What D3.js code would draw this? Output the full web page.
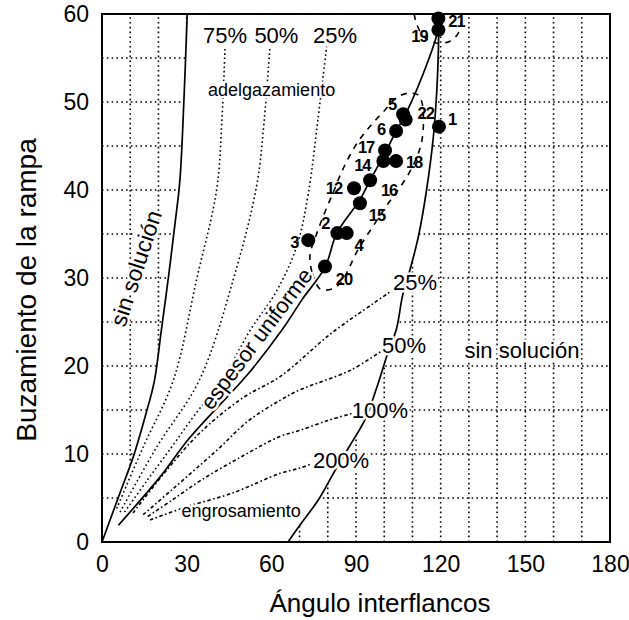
<!DOCTYPE html>
<html>
<head>
<meta charset="utf-8">
<script src="https://cdn.jsdelivr.net/npm/d3@7"></script>
<style>
  body { margin: 0; background: #fff; }
  svg { display: block; font-family: Arial, "Liberation Sans", sans-serif; }
</style>
</head>
<body>
<svg id="chart" width="629" height="620"></svg>
<script>
// ---- datos ----
const xTicks = [0, 30, 60, 90, 120, 150, 180];
const yTicks = [0, 10, 20, 30, 40, 50, 60];

// límites de "sin solución"
const limiteIzq = [[0,0],[6.4,5.6],[11.1,9.7],[15.5,14.5],[18.5,18.2],[21,24],[23.5,30],[25.8,36],[27.6,41.1],[29,50],[30.2,60]];
const limiteDer = [[65.9,0],[71,2.3],[76.7,4.8],[82,7.8],[87.9,11],[93.2,13.9],[97.3,17.5],[100.9,21.1],[104.4,24.3],[106.5,28],[109.1,30.9],[112.1,34.7],[115,40],[117.4,46],[118.6,51.1],[119.2,56],[119.3,60]];

// espesor uniforme
const espesorUniforme = [[5.8,1.9],[20.6,7.4],[31.2,11.9],[51.5,19],[64,24.2],[71,27.6],[79,31.2],[83.2,35.1],[91.4,38.9],[95,41.1],[100.3,44.2],[104.4,46.8],[107.4,48.5],[115.7,54.8],[119.2,58.4],[119.3,60]];

// adelgazamiento (punteadas)
const adelgaza75 = [[5.2,3.8],[14.6,10.8],[25.3,18.4],[33.5,29.8],[40.6,40],[42.5,48],[43.6,56.3]];
const adelgaza50 = [[6.4,3.4],[19.4,10.8],[34.5,18.4],[46.5,29.8],[54.8,40.5],[57.5,48],[59.5,56.3]];
const adelgaza25 = [[8,3.4],[16,7],[24.7,10.8],[33,14.5],[42.5,18.4],[52.4,24],[62,28.6],[69,33.6],[73.1,39.6],[76.5,48],[79.6,56.3]];

// engrosamiento (raya-punto)
const engrosa25 = [[11,3.3],[22,7.8],[35,12.5],[50,16.4],[63.1,18.8],[80.8,23.6],[96.1,27.1],[102,28.4]];
const engrosa50 = [[14.6,3.1],[25,6],[40.6,10.4],[52,13.8],[63.1,16.1],[70.2,17.3],[87.9,19.5],[99.5,21.8]];
const engrosa100 = [[16.2,2.9],[25,4.8],[35,7],[50,9.8],[63.1,12],[70.2,12.7],[80,13.8],[88.5,14.6]];
const engrosa200 = [[17,2.5],[30,4.0],[46.5,5.6],[63.1,7.8],[70.2,8.4],[74.3,8.9]];

// datos medidos
const puntosId = [1, 2, 3, 4, 5, 6, 12, 14, 15, 16, 17, 18, 19, 20, 21, 22];
const puntosAngulo = [119.4, 83.4, 73.1, 86.7, 106.7, 104.2, 89.3, 99.7, 91.4, 95.0, 100.3, 104.2, 119.2, 79.0, 119.2, 107.6];
const puntosBuzamiento = [47.2, 35.1, 34.3, 35.1, 48.6, 46.7, 40.2, 43.3, 38.5, 41.1, 44.5, 43.3, 58.2, 31.3, 59.5, 48.0];

// envolventes de los datos (discontinuas)
const envolvente = [[77.3,28.75],[74.4,30.7],[73.7,32.6],[75.8,34.8],[79,37.5],[81.9,39.7],[84.3,41.6],[87.5,43.75],[91.4,45.8],[95.7,47.5],[100.3,49.1],[104.2,50.45],[108.4,51],[112,50.8],[113.4,49.9],[113.9,48.2],[113.4,45.7],[111.6,43.75],[108.4,41.7],[104.9,40],[101,38.3],[97.1,36.4],[93.2,34.5],[90,32.8],[87.5,31.1],[84.7,29.5],[81.5,28.75]];
const envolventeSup = [[110.6,60],[111.6,58.75],[114.1,57.4],[118.4,56.7],[123.3,56.9],[126.2,57.8],[127.2,58.9],[127.6,60]];

// ---- layout ----
const width = 629, height = 620;
const margin = { top: 14, right: 19, bottom: 78, left: 102 };

const svg = d3.select('#chart');

const x = d3.scaleLinear().domain([0, 180]).range([margin.left, width - margin.right]);
const y = d3.scaleLinear().domain([0, 60]).range([height - margin.bottom, margin.top]);

const line = d3.line()
  .x(d => x(d[0]))
  .y(d => y(d[1]))
  .curve(d3.curveCatmullRom.alpha(0.5));

// zonas "sin solución" con cuadrícula
const zonaIzq = [[0,0], ...limiteIzq, [0,60]];
const zonaDer = [...limiteDer, [180,60], [180,0]];
const poly = d3.line().x(d => x(d[0])).y(d => y(d[1]));

const defs = svg.append('defs');
const clip = defs.append('clipPath').attr('id', 'zonas');
clip.append('path').attr('d', poly(zonaIzq) + 'Z');
clip.append('path').attr('d', poly(zonaDer) + 'Z');

const grid = svg.append('g')
  .attr('clip-path', 'url(#zonas)')
  .attr('stroke', '#000')
  .attr('stroke-width', 1.6)
  .attr('stroke-dasharray', '1.6,3.2');

grid.selectAll('line.v')
  .data(d3.range(10, 180, 10))
  .join('line')
  .attr('class', 'v')
  .attr('x1', d => x(d)).attr('x2', d => x(d))
  .attr('y1', y(0)).attr('y2', y(60));

grid.selectAll('line.h')
  .data(d3.range(5, 60, 5))
  .join('line')
  .attr('class', 'h')
  .attr('x1', x(0)).attr('x2', x(180))
  .attr('y1', d => y(d)).attr('y2', d => y(d));

// curvas
const curvas = svg.append('g').attr('fill', 'none').attr('stroke', '#000');

[limiteIzq, limiteDer].forEach(c => {
  curvas.append('path').attr('d', line(c)).attr('stroke-width', 1.7);
});

curvas.append('path').attr('d', line(espesorUniforme)).attr('stroke-width', 1.7);

[adelgaza75, adelgaza50, adelgaza25].forEach(c => {
  curvas.append('path').attr('d', line(c))
    .attr('stroke-width', 1.6)
    .attr('stroke-dasharray', '1.6,2.8');
});

[engrosa25, engrosa50, engrosa100, engrosa200].forEach(c => {
  curvas.append('path').attr('d', line(c))
    .attr('stroke-width', 1.6)
    .attr('stroke-dasharray', '3.5,2.5,1.6,2.5');
});

// envolventes
curvas.append('path')
  .attr('d', d3.line().x(d => x(d[0])).y(d => y(d[1])).curve(d3.curveCatmullRomClosed)(envolvente))
  .attr('stroke-width', 1.6)
  .attr('stroke-dasharray', '6,6');

curvas.append('path')
  .attr('d', line(envolventeSup))
  .attr('stroke-width', 1.6)
  .attr('stroke-dasharray', '6,6');

// textos de las curvas
const textos = svg.append('g')
  .attr('fill', '#000')
  .attr('stroke', '#fff')
  .attr('stroke-width', 5)
  .attr('paint-order', 'stroke')
  .attr('stroke-linejoin', 'round')
  .attr('text-anchor', 'middle');

const etiquetas = [
  { t: '75%', a: 43.6, b: 56.7, s: 22 },
  { t: '50%', a: 61.8, b: 56.7, s: 22 },
  { t: '25%', a: 82.6, b: 56.7, s: 22 },
  { t: '25%', a: 110.9, b: 28.6, s: 22 },
  { t: '50%', a: 107.0, b: 21.5, s: 22 },
  { t: '100%', a: 98.5, b: 14.1, s: 22 },
  { t: '200%', a: 84.7, b: 8.4, s: 22 },
  { t: 'sin solución', a: 148.8, b: 20.9, s: 22 },
  { t: 'adelgazamiento', a: 60.1, b: 50.7, s: 18 },
  { t: 'engrosamiento', a: 49.3, b: 2.84, s: 18 }
];

textos.selectAll('text.et')
  .data(etiquetas)
  .join('text')
  .attr('class', 'et')
  .attr('x', d => x(d.a))
  .attr('y', d => y(d.b))
  .attr('font-size', d => d.s)
  .text(d => d.t);

textos.append('text')
  .attr('transform', `translate(${x(12.0)},${y(31.1)}) rotate(-72)`)
  .attr('dy', '0.35em')
  .attr('font-size', 23)
  .text('sin solución');

textos.append('text')
  .attr('transform', `translate(${x(54.7)},${y(23.1)}) rotate(-53)`)
  .attr('dy', '0.35em')
  .attr('font-size', 22)
  .text('espesor uniforme');

// puntos
const puntos = puntosId.map((id, i) => ({ id, a: puntosAngulo[i], b: puntosBuzamiento[i] }));

svg.append('g')
  .selectAll('circle')
  .data(puntos)
  .join('circle')
  .attr('cx', d => x(d.a))
  .attr('cy', d => y(d.b))
  .attr('r', 7)
  .attr('fill', '#000');

const desplaz = {
  1: [13, -8], 2: [-12, -10], 3: [-14, 2], 4: [12, 12], 5: [-11, -10], 6: [-15, -2],
  12: [-20, 0], 14: [-21, 4], 15: [17, 12], 16: [19, 10], 17: [-19, -3], 18: [18, 1],
  19: [-19, 6], 20: [19, 12], 21: [18, 3], 22: [20, -7]
};

svg.append('g')
  .attr('font-size', 16.5)
  .attr('font-weight', 'bold')
  .attr('text-anchor', 'middle')
  .attr('letter-spacing', -1)
  .selectAll('text')
  .data(puntos)
  .join('text')
  .attr('x', d => x(d.a) + desplaz[d.id][0])
  .attr('y', d => y(d.b) + desplaz[d.id][1])
  .attr('dy', '0.36em')
  .text(d => d.id);

// marco
svg.append('rect')
  .attr('x', x(0)).attr('y', y(60))
  .attr('width', x(180) - x(0)).attr('height', y(0) - y(60))
  .attr('fill', 'none').attr('stroke', '#000').attr('stroke-width', 2);

// ejes
const ejeX = svg.append('g')
  .attr('transform', `translate(0,${y(0)})`)
  .call(d3.axisBottom(x).tickValues(xTicks).tickSize(0).tickPadding(14));
ejeX.select('.domain').remove();
ejeX.selectAll('text').attr('font-size', 23).attr('font-family', null).attr('fill', '#000');

const ejeY = svg.append('g')
  .attr('transform', `translate(${x(0)},0)`)
  .call(d3.axisLeft(y).tickValues(yTicks).tickSize(0).tickPadding(13));
ejeY.select('.domain').remove();
ejeY.selectAll('text').attr('font-size', 23).attr('font-family', null).attr('fill', '#000');

svg.append('text')
  .attr('x', 380).attr('y', 612)
  .attr('text-anchor', 'middle')
  .attr('font-size', 26)
  .text('Ángulo interflancos');

svg.append('text')
  .attr('transform', `translate(36,${(y(0) + y(60)) / 2 + 12}) rotate(-90)`)
  .attr('text-anchor', 'middle')
  .attr('font-size', 28)
  .text('Buzamiento de la rampa');
</script>
</body>
</html>
